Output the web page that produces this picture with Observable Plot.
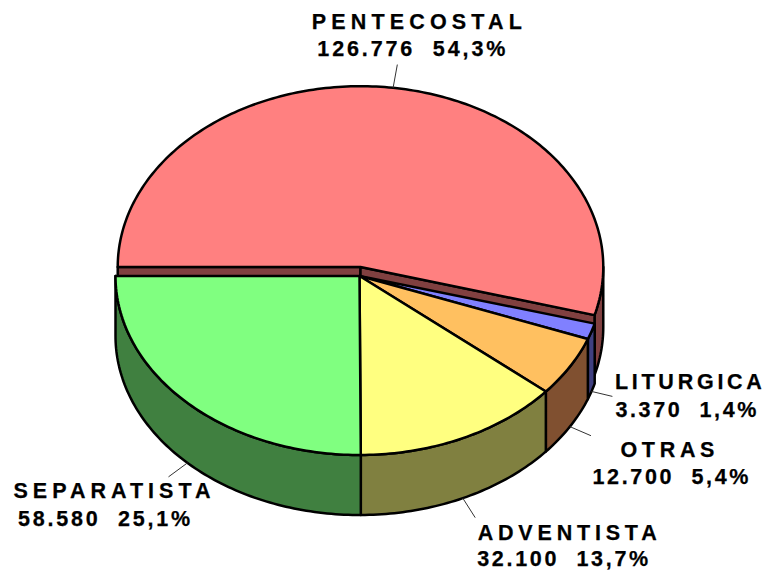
<!DOCTYPE html>
<html>
<head>
<meta charset="utf-8">
<style>
html,body{margin:0;padding:0;background:#fff;overflow:hidden}
svg{display:block}
.lab text,.val text{white-space:pre}
</style>
<script src="https://cdn.jsdelivr.net/npm/d3@7"></script>
<script src="https://cdn.jsdelivr.net/npm/@observablehq/plot@0.6"></script>
</head>
<body>
<div id="chart"></div>
<script>
const categories = ["PENTECOSTAL","LITURGICA","OTRAS","ADVENTISTA","SEPARATISTA"];
const values = [126776,3370,12700,32100,58580];
const amountLabels = ["126.776","3.370","12.700","32.100","58.580"];
const percentLabels = ["54,3%","1,4%","5,4%","13,7%","25,1%"];
const topColors = ["#ff8080","#8080ff","#ffc060","#ffff80","#80ff80"];
const sideColors = ["#804040","#404080","#805030","#808040","#408040"];

// layout of the projected pie, in pixels of the frame
const W = 766, H = 570, CX = 359, CY = 275.5, RX = 244, RY = 179, DEPTH = 60;
const startAngle = 270;
const explodeFirst = {x: 1, y: -9, rx: 0.995, ry: 1.01};
const leaderReach = [1.13,1.09,1.10,1.12,1.11];
const nameOffset = [[-85.5,-42.6],[2.5,-14],[29.5,14],[2.5,15],[-155,14.5]];
const valueOffset = [[-80,-15],[3,13.5],[1.5,41.5],[2,41],[-150.5,42.5]];
const nameWidth = [210,147,94,179,197];
const valueWidth = [188,141,156,171,172];

const total = d3.sum(values);
let acc = startAngle;
const wedges = values.map((v,i)=>{
  const a0 = acc, a1 = acc + v/total*360; acc = a1;
  const ex = i===0 ? explodeFirst : {x:0,y:0,rx:1,ry:1};
  return {i,a0,a1,mid:(a0+a1)/2,ox:ex.x/RX,oy:-ex.y/RY,rx:ex.rx,ry:ex.ry};
});
const rim = (w,a,drop=0,f=1)=>{
  const t=a*Math.PI/180;
  return {x:w.ox+w.rx*f*Math.sin(t), y:w.oy+w.ry*f*Math.cos(t)-drop};
};
const d = DEPTH/RY;
const arc = (w,a,b,drop=0)=>{
  const n=Math.max(2,Math.ceil(Math.abs(b-a))), out=[];
  for(let k=0;k<=n;k++) out.push(rim(w,a+(b-a)*k/n,drop));
  return out;
};
const centre = (w,drop=0)=>({x:w.ox,y:w.oy-drop});
const close = p=>[...p,p[0]];
const topFace = w=>close([centre(w),...arc(w,w.a0,w.a1)]);
const sideFace = w=>{
  // the part of the rim that faces the viewer: 90 to 270 degrees
  const s=[];
  for(const off of [0,360]){
    const a=Math.max(w.a0,90+off), b=Math.min(w.a1,270+off);
    if(b>a) s.push(close([...arc(w,a,b),...arc(w,b,a,d)]));
  }
  return s;
};
const cutFace = (w,a)=>close([centre(w),rim(w,a),rim(w,a,d),centre(w,d)]);

const line = (pts,fill)=>Plot.line(pts,{x:"x",y:"y",fill,stroke:"#000",strokeWidth:2.5,strokeLinejoin:"round"});
const marks=[];
const first=wedges[0];
sideFace(first).forEach(f=>marks.push(line(f,sideColors[0])));
marks.push(line(cutFace(first,first.a0),sideColors[0]));
marks.push(line(cutFace(first,first.a1),sideColors[0]));
marks.push(line(topFace(first),topColors[0]));
wedges.slice(1).forEach(w=>sideFace(w).forEach(f=>marks.push(line(f,sideColors[w.i]))));
wedges.slice(1).forEach(w=>marks.push(line(topFace(w),topColors[w.i])));

wedges.forEach(w=>{
  const drop = w.i===0 ? 0 : d;
  const from = rim(w,w.mid,drop), to = rim(w,w.mid,drop,leaderReach[w.i]);
  marks.push(Plot.link([{from,to}],{x1:r=>r.from.x,y1:r=>r.from.y,x2:r=>r.to.x,y2:r=>r.to.y,stroke:"#333",strokeWidth:1}));
  const common={x:to.x,y:to.y,textAnchor:"start",fontFamily:"Liberation Sans",fontWeight:"bold",fill:"#000",lineAnchor:"middle",stroke:"#000",strokeWidth:0.25};
  marks.push(Plot.text([categories[w.i]],{...common,text:t=>t,fontSize:21.5,dx:nameOffset[w.i][0],dy:nameOffset[w.i][1],className:"lab"}));
  marks.push(Plot.text([amountLabels[w.i]+"  "+percentLabels[w.i]],{...common,text:t=>t,fontSize:21.5,dx:valueOffset[w.i][0],dy:valueOffset[w.i][1],className:"val"}));
});

const chart = Plot.plot({
  width:W,height:H,margin:0,
  x:{axis:null,domain:[-CX/RX,(W-CX)/RX],range:[0,W]},
  y:{axis:null,domain:[(CY-H)/RY,CY/RY],range:[H,0]},
  style:{background:"#fff"},
  marks
});
document.getElementById("chart").append(chart);

// spread the letters of each line to the width it has in the reference
const fit = (cls,widths)=>chart.querySelectorAll(`.${cls} text`).forEach((t,i)=>{
  const extra = widths[i]-t.getComputedTextLength();
  t.style.letterSpacing = (extra/(t.textContent.length-1))+"px";
});
fit("lab",nameWidth);
fit("val",valueWidth);
</script>
</body>
</html>
